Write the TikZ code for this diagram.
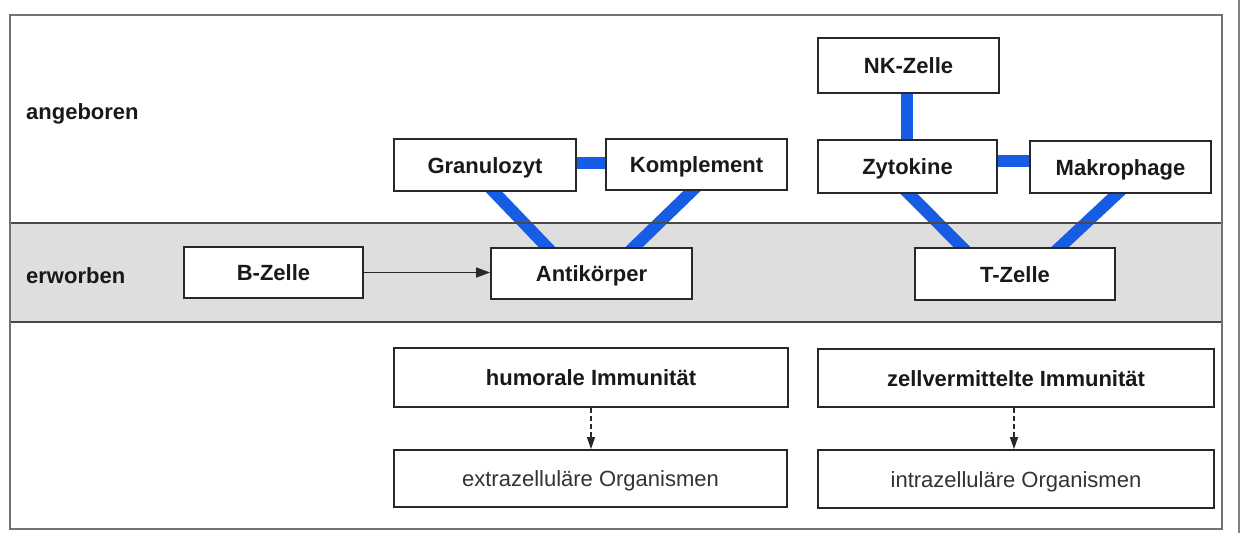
\documentclass[tikz,border=0pt]{standalone}
\usepackage{fontspec}
\setmainfont{Liberation Sans}
\usetikzlibrary{arrows.meta,backgrounds,calc}
\definecolor{linkblue}{RGB}{22,92,228}
\definecolor{bandgray}{RGB}{222,222,222}
\definecolor{framegray}{RGB}{115,115,115}
\definecolor{boxline}{RGB}{40,40,40}
\begin{document}
\begin{tikzpicture}[x=1pt,y=-1pt,
  box/.style={draw=boxline, line width=1.8pt, fill=white, inner sep=0pt,
    font=\fontsize{22}{26}\selectfont\bfseries, text=black!90,
    text height=16pt, text depth=0pt},
  plainbox/.style={box, font=\fontsize{22}{26}\selectfont, text=black!80},
  link/.style={draw=linkblue, line width=12pt},
  rowlabel/.style={anchor=base west, inner sep=0pt,
    font=\fontsize{22}{26}\selectfont\bfseries, text=black!90},
  thinarrow/.style={draw=boxline, line width=1.5pt, -{Triangle[length=14pt,width=10pt]}},
  dasharrow/.style={draw=boxline, line width=1.3pt, dash pattern=on 5pt off 3pt,
    -{Triangle[length=12pt,width=8pt]}}
]
\useasboundingbox (0,0) rectangle (1246,533);

% boxes
\node[box, minimum width=181pt, minimum height=55pt] (nk)   at (908.5,65.5) {NK-Zelle};
\node[box, minimum width=182pt, minimum height=52pt] (gran) at (485,165)    {Granulozyt};
\node[box, minimum width=181pt, minimum height=51pt] (komp) at (696.5,164.5) {Komplement};
\node[box, minimum width=179pt, minimum height=53pt] (zyt)  at (907.5,166.5) {Zytokine};
\node[box, minimum width=181pt, minimum height=52pt] (mak)  at (1120.5,167) {Makrophage};
\node[box, minimum width=179pt, minimum height=51pt] (bz)   at (273.5,272.5) {B-Zelle};
\node[box, minimum width=201pt, minimum height=51pt] (anti) at (591.5,273.5) {Antikörper};
\node[box, minimum width=200pt, minimum height=52pt] (tz)   at (1015,274)   {T-Zelle};
\node[box, minimum width=394pt, minimum height=59pt] (hum)  at (591,377.5)  {humorale Immunität};
\node[box, minimum width=396pt, minimum height=58pt] (zell) at (1016,378)   {zellvermittelte Immunität};
\node[plainbox, minimum width=393pt, minimum height=57pt] (extra) at (590.5,478.5) {extrazelluläre Organismen};
\node[plainbox, minimum width=396pt, minimum height=58pt] (intra) at (1016,479) {intrazelluläre Organismen};

% row labels
\node[rowlabel] (ang) at (26,119) {angeboren};
\node[rowlabel] (erw) at (26,283) {erworben};

\begin{pgfonlayer}{background}
  \fill[bandgray] (10,223) rectangle (1222,322);
  \draw[link] ([yshift=2pt]gran.east) -- ([yshift=1.5pt]komp.west);
  \draw[link] ([yshift=5.5pt]zyt.east) -- ([yshift=6pt]mak.west);
  \draw[link] ([xshift=-1.5pt]nk.south) -- ([xshift=-0.5pt]zyt.north);
  \draw[link, shorten <=-8pt, shorten >=-8pt] ([xshift=9pt]gran.south) -- ([xshift=-44.5pt]anti.north);
  \draw[link, shorten <=-8pt, shorten >=-8pt] ([xshift=-4.5pt]komp.south) -- ([xshift=42.5pt]anti.north);
  \draw[link, shorten <=-8pt, shorten >=-8pt] ([xshift=1.5pt]zyt.south) -- ([xshift=-53pt]tz.north);
  \draw[link, shorten <=-8pt, shorten >=-8pt] ([xshift=-3.5pt]mak.south) -- ([xshift=45pt]tz.north);
\end{pgfonlayer}

% band borders and frame
\draw[boxline!85, line width=1.8pt] (10,223) -- (1222,223);
\draw[boxline!85, line width=1.8pt] (10,322) -- (1222,322);
\draw[framegray, line width=1.5pt] (10,15) rectangle (1222,529);
\draw[gray, line width=2pt] (1239,0) -- (1239,533);

% arrows
\draw[thinarrow] (bz.east) -- (anti.west |- bz.east);
\draw[dasharrow] (hum.south) -- (hum.south |- extra.north);
\draw[dasharrow] ([xshift=-2pt]zell.south) -- ([xshift=-2pt]zell.south |- intra.north);
\end{tikzpicture}
\end{document}
